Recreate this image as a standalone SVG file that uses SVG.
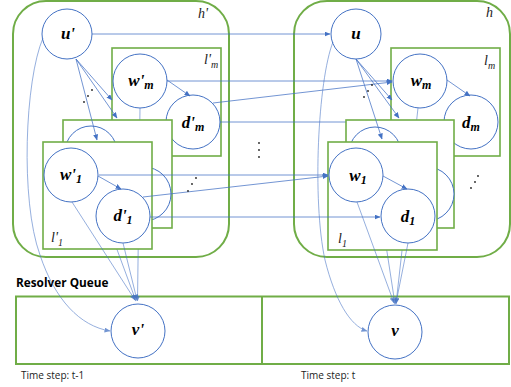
<svg xmlns="http://www.w3.org/2000/svg" width="511" height="387" viewBox="0 0 511 387">
<defs>
<marker id="ar" markerWidth="6" markerHeight="5" refX="5.5" refY="2.5" orient="auto" markerUnits="userSpaceOnUse">
<path d="M0,0 L6,2.5 L0,5 z" fill="#4472C4"/>
</marker>
<style>
.big{fill:none;stroke:#70AD47;stroke-width:2}
.box{fill:#fff;stroke:#70AD47;stroke-width:1.6}
.n{fill:#fff;stroke:#4472C4;stroke-width:1}
.a{fill:none;stroke:#4472C4;stroke-width:0.75;marker-end:url(#ar)}
.lt{opacity:0.75}
.nl{font-family:"Liberation Serif",serif;font-weight:bold;font-style:italic;font-size:17px;fill:#000;text-anchor:middle}
.sub{font-size:12px}
.ll{font-family:"Liberation Serif",serif;font-style:italic;font-size:14px;fill:#222}
.lsub{font-size:10px}
.dot{fill:#222}
.q{fill:none;stroke:#70AD47;stroke-width:2}
.cap{font-family:"Open Sans","Liberation Sans",sans-serif;font-size:10px;fill:#222}
</style>
</defs>

<g id="h-prime"><rect class="big" x="13" y="1" width="216" height="256" rx="33"/><text class="ll" x="198" y="18">h'</text></g>
<g id="h"><rect class="big" x="294" y="1" width="216" height="256" rx="33"/><text class="ll" x="486" y="17">h</text></g>

<g id="queue">
<rect class="q" x="16" y="296.5" width="493" height="67.5"/>
<line class="q" x1="262" y1="296.5" x2="262" y2="364"/>
<text x="16" y="287" font-family="Open Sans, Liberation Sans, sans-serif" font-weight="bold" font-size="11.8" fill="#000">Resolver Queue</text>
<text class="cap" x="21" y="379">Time step: t-1</text>
<text class="cap" x="301" y="379">Time step: t</text>
</g>

<g id="layer-prime-m">
<rect class="box" x="112" y="48" width="109" height="108"/>
<text class="ll" x="204" y="64">l'<tspan class="lsub" dy="4">m</tspan></text>
<circle class="n" cx="140" cy="81" r="27"/>
<circle class="n" cx="193" cy="122" r="27"/>
<text class="nl" x="141" y="86">w'<tspan class="sub" dy="3">m</tspan></text>
<text class="nl" x="193" y="128">d'<tspan class="sub" dy="3">m</tspan></text>
</g>
<g id="layer-m">
<rect class="box" x="391" y="48" width="109" height="108"/>
<text class="ll" x="484" y="65">l<tspan class="lsub" dy="4">m</tspan></text>
<circle class="n" cx="420" cy="81" r="27"/>
<circle class="n" cx="471" cy="122" r="27"/>
<text class="nl" x="421" y="86">w<tspan class="sub" dy="3">m</tspan></text>
<text class="nl" x="471" y="128">d<tspan class="sub" dy="3">m</tspan></text>
</g>

<g id="connectors-back-1">
<path class="a lt" d="M140,108 L137.5,301"/>
<path class="a lt" d="M418,108 L396,304"/>
<path class="a" d="M220,122 L444,122"/>
</g>

<g id="layer-prime-mid">
<rect class="box" x="63" y="120" width="109" height="108"/>
<circle class="n" cx="91" cy="152" r="26"/>
<circle class="n" cx="144" cy="194" r="27"/>
</g>
<g id="layer-mid">
<rect class="box" x="346" y="120" width="108" height="108"/>
<circle class="n" cx="375" cy="153" r="26"/>
<circle class="n" cx="427" cy="194" r="27"/>
</g>

<g id="connectors-back-2">
<path class="a lt" d="M91,179 L136,301"/>
<path class="a lt" d="M376,180 L395,304"/>
</g>

<g id="layer-prime-1">
<rect class="box" x="43" y="142" width="109" height="107"/>
<text class="ll" x="51" y="242">l'<tspan class="lsub" dy="4">1</tspan></text>
<circle class="n" cx="71" cy="175" r="27"/>
<circle class="n" cx="123" cy="216" r="27"/>
<text class="nl" x="71" y="180">w'<tspan class="sub" dy="3">1</tspan></text>
<text class="nl" x="123" y="221">d'<tspan class="sub" dy="3">1</tspan></text>
</g>
<g id="layer-1">
<rect class="box" x="328" y="142" width="109" height="108"/>
<text class="ll" x="338" y="243">l<tspan class="lsub" dy="4">1</tspan></text>
<circle class="n" cx="356" cy="175" r="27"/>
<circle class="n" cx="408" cy="216" r="27"/>
<text class="nl" x="358" y="181">w<tspan class="sub" dy="3">1</tspan></text>
<text class="nl" x="408" y="222">d<tspan class="sub" dy="3">1</tspan></text>
</g>

<g id="node-u-prime"><circle class="n" cx="67" cy="34" r="25"/><text class="nl" x="68" y="39">u'</text></g>
<g id="node-u"><circle class="n" cx="356" cy="34" r="25"/><text class="nl" x="356" y="39">u</text></g>
<g id="node-v-prime"><circle class="n" cx="138" cy="331" r="27"/><text class="nl" x="138" y="335" font-size="13">v'</text></g>
<g id="node-v"><circle class="n" cx="395" cy="332" r="27"/><text class="nl" x="395" y="336" font-size="13">v</text></g>

<g id="connectors">
<path class="a" d="M92,34 L330,34"/>
<path class="a" d="M167,81 L392,81"/>
<path class="a" d="M213,103 L392,82"/>
<path class="a" d="M99,175 L328,175"/>
<path class="a" d="M143,197 L328,176"/>
<path class="a" d="M150,217 L380,217"/>
<path class="a" d="M167,80 L190,96"/>
<path class="a" d="M447,80 L470,96"/>
<path class="a" d="M98,176 L121,189"/>
<path class="a" d="M383,176 L407,189"/>
<path class="a" d="M76,59 L112,100"/>
<path class="a" d="M76,59 L117,118"/>
<path class="a" d="M76,59 L97,140"/>
<path class="a" d="M356,59 L392,100"/>
<path class="a" d="M356,59 L399,118"/>
<path class="a" d="M356,59 L382,139"/>
<path class="a lt" d="M43,38 C25,80 20,200 40,255 C55,300 80,326 110,331"/>
<path class="a lt" d="M333,42 C318,80 312,200 325,260 C335,300 350,326 367,331"/>
<path class="a lt" d="M72,202 L135,300"/>
<path class="a lt" d="M123,243 L137,300"/>
<path class="a lt" d="M357,202 L394,303"/>
<path class="a lt" d="M408,243 L396,303"/>
</g>

<g id="ellipses">
<circle class="dot" cx="92" cy="90" r="0.9"/><circle class="dot" cx="88" cy="96" r="0.9"/><circle class="dot" cx="84" cy="102" r="0.9"/>
<circle class="dot" cx="372" cy="85" r="0.9"/><circle class="dot" cx="368" cy="91" r="0.9"/><circle class="dot" cx="364" cy="97" r="0.9"/>
<circle class="dot" cx="259" cy="143" r="0.9"/><circle class="dot" cx="259" cy="150" r="0.9"/><circle class="dot" cx="259" cy="157" r="0.9"/>
<circle class="dot" cx="196" cy="178" r="0.9"/><circle class="dot" cx="192" cy="184" r="0.9"/><circle class="dot" cx="188" cy="191" r="0.9"/>
<circle class="dot" cx="478" cy="176" r="0.9"/><circle class="dot" cx="475" cy="182" r="0.9"/><circle class="dot" cx="471" cy="188" r="0.9"/>
</g>
</svg>
